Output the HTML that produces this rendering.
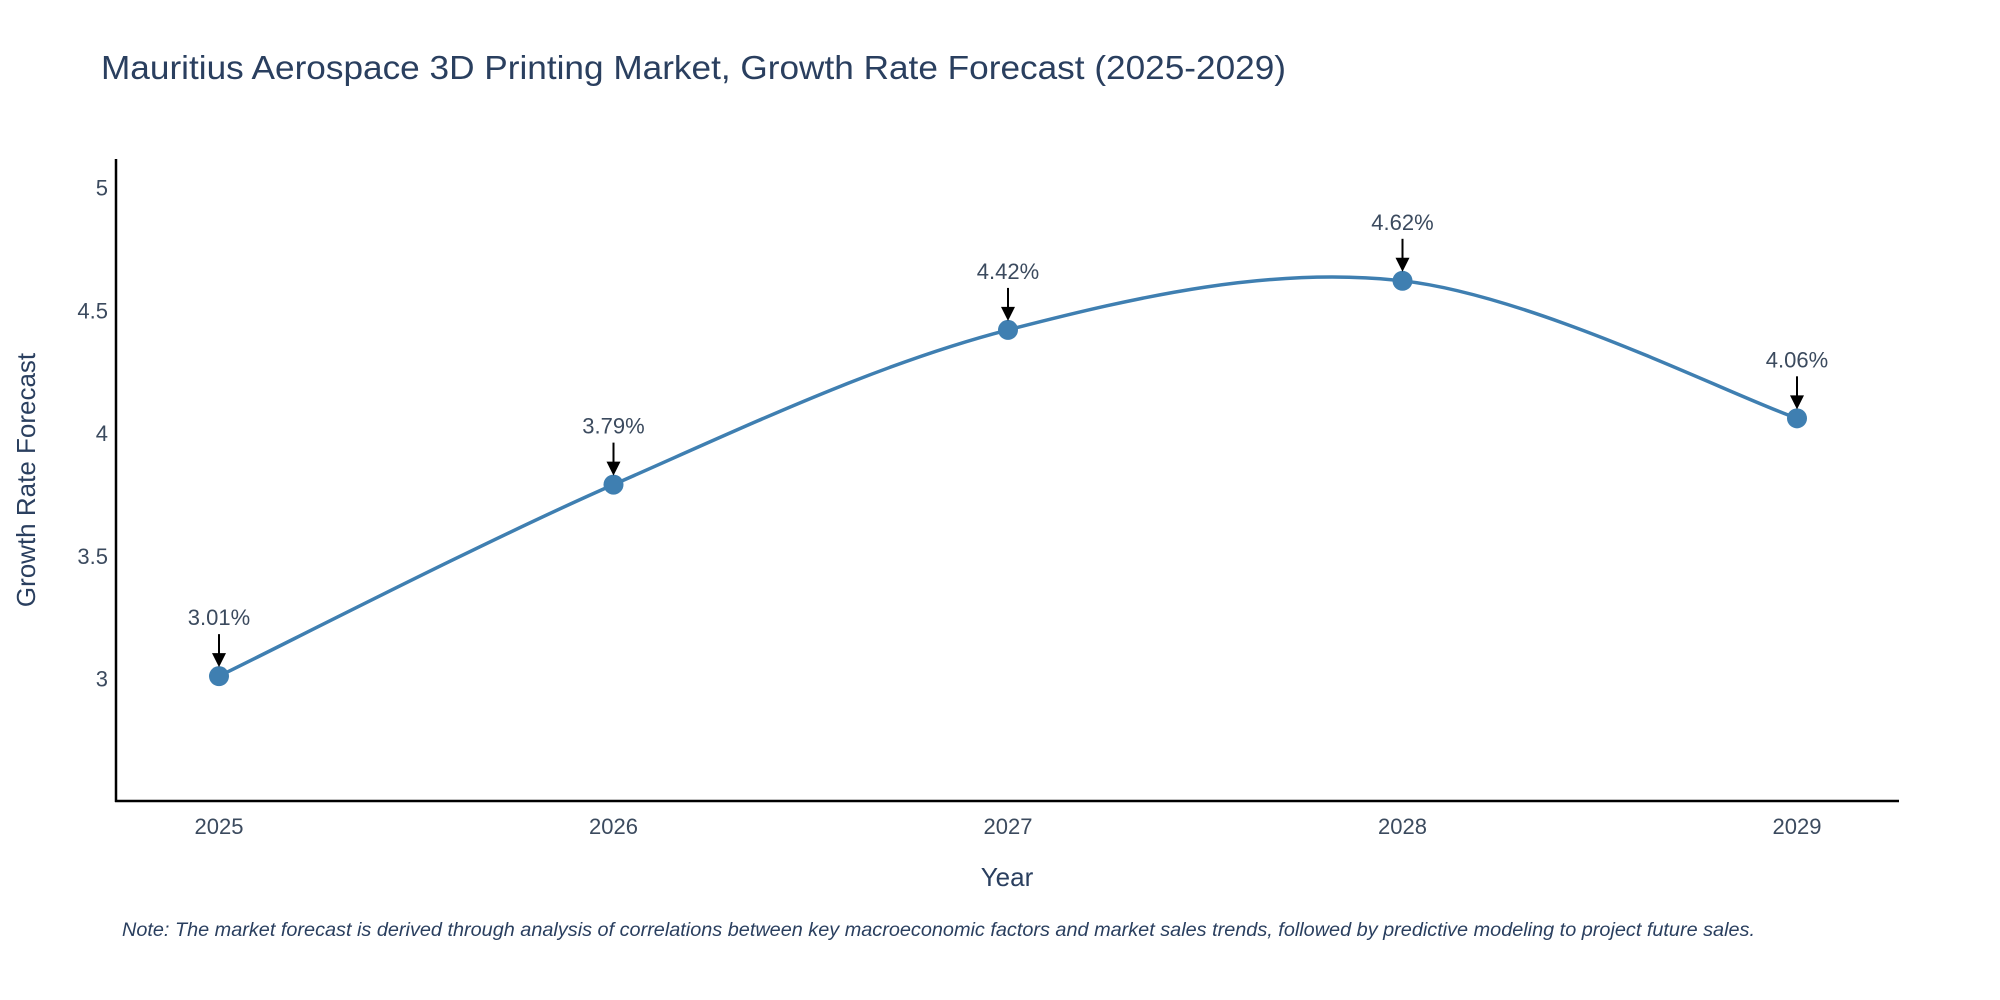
<!DOCTYPE html>
<html><head><meta charset="utf-8"><style>
body{margin:0;background:#fff;}
svg{display:block;font-family:"Liberation Sans","DejaVu Sans",sans-serif;}
</style></head><body>
<svg id="chart" width="2000" height="1000">
<text x="101" y="79" font-size="33" fill="#2a3f5f" textLength="1185" lengthAdjust="spacingAndGlyphs">Mauritius Aerospace 3D Printing Market, Growth Rate Forecast (2025-2029)</text>
<g id="axes"></g>
<g id="marks"></g>
<text x="1007" y="886" font-size="26" fill="#2a3f5f" text-anchor="middle">Year</text>
<text transform="translate(35,480) rotate(-90)" font-size="26" fill="#2a3f5f" text-anchor="middle">Growth Rate Forecast</text>
<text x="122" y="936" font-size="19" font-style="italic" fill="#2a3f5f" textLength="1633" lengthAdjust="spacingAndGlyphs">Note: The market forecast is derived through analysis of correlations between key macroeconomic factors and market sales trends, followed by predictive modeling to project future sales.</text>
</svg>
<script>
const years = [2025, 2026, 2027, 2028, 2029];
const growth = [3.01, 3.79, 4.42, 4.62, 4.06];
const labels = ["3.01%", "3.79%", "4.42%", "4.62%", "4.06%"];
const yTicks = [3, 3.5, 4, 4.5, 5];
const yTickLabels = ["3", "3.5", "4", "4.5", "5"];

const NS = "http://www.w3.org/2000/svg";
const X0 = 116, X1 = 1899, YT = 159, YB = 801;
const xs = v => 219 + (v - 2025) * (1797 - 219) / 4;
const ys = v => 678.6 - (v - 3) * (678.6 - 187.5) / 2;
function mk(tag, attrs, parent, txt) {
  const e = document.createElementNS(NS, tag);
  for (const k in attrs) e.setAttribute(k, attrs[k]);
  if (txt !== undefined) e.textContent = txt;
  parent.appendChild(e);
  return e;
}
const axes = document.getElementById("axes");
const marks = document.getElementById("marks");
const yl = mk("line", {x1: X0, y1: YT, x2: X0, y2: YB + 1, stroke: "#000", "stroke-width": 2.5}, axes);


const xl = mk("line", {x1: X0 - 1, y1: YB, x2: X1, y2: YB, stroke: "#000", "stroke-width": 2.5}, axes);


yTicks.forEach((t, i) => {
  const e = mk("text", {x: 108, y: ys(t) + 8, "font-size": 22, fill: "#3b4a5e", "text-anchor": "end"}, axes, yTickLabels[i]);
  
  
});
years.forEach(y => {
  const e = mk("text", {x: xs(y), y: 834, "font-size": 22, fill: "#3b4a5e", "text-anchor": "middle"}, axes, String(y));
  
  
});
const P = years.map((y, i) => [xs(y), ys(growth[i])]);
let d = "M" + P[0][0] + "," + P[0][1];
const k = 1 / 6;
for (let i = 0; i < P.length - 1; i++) {
  const p0 = P[Math.max(i - 1, 0)], p1 = P[i], p2 = P[i + 1], p3 = P[Math.min(i + 2, P.length - 1)];
  const c1 = [p1[0] + (p2[0] - p0[0]) * k, p1[1] + (p2[1] - p0[1]) * k];
  const c2 = [p2[0] - (p3[0] - p1[0]) * k, p2[1] - (p3[1] - p1[1]) * k];
  d += ` C${c1[0]},${c1[1]} ${c2[0]},${c2[1]} ${p2[0]},${p2[1]}`;
}
const line = mk("path", {d: d, fill: "none", stroke: "#3f7fb1", "stroke-width": 3.5}, marks);


P.forEach((p, i) => {
  const c = mk("circle", {cx: p[0], cy: p[1], r: 10, fill: "#3f7fb1"}, marks);
  
  
  const a = mk("line", {x1: p[0], y1: p[1] - 42, x2: p[0], y2: p[1] - 22, stroke: "#000", "stroke-width": 2}, marks);
  
  
  const h = mk("polygon", {points: `${p[0]-7},${p[1]-23} ${p[0]+7},${p[1]-23} ${p[0]},${p[1]-9}`, fill: "#000"}, marks);
  
  
  const t = mk("text", {x: p[0], y: p[1] - 51, "font-size": 22, fill: "#3b4a5e", "text-anchor": "middle"}, marks, labels[i]);
  
  
});
</script>
</body></html>
